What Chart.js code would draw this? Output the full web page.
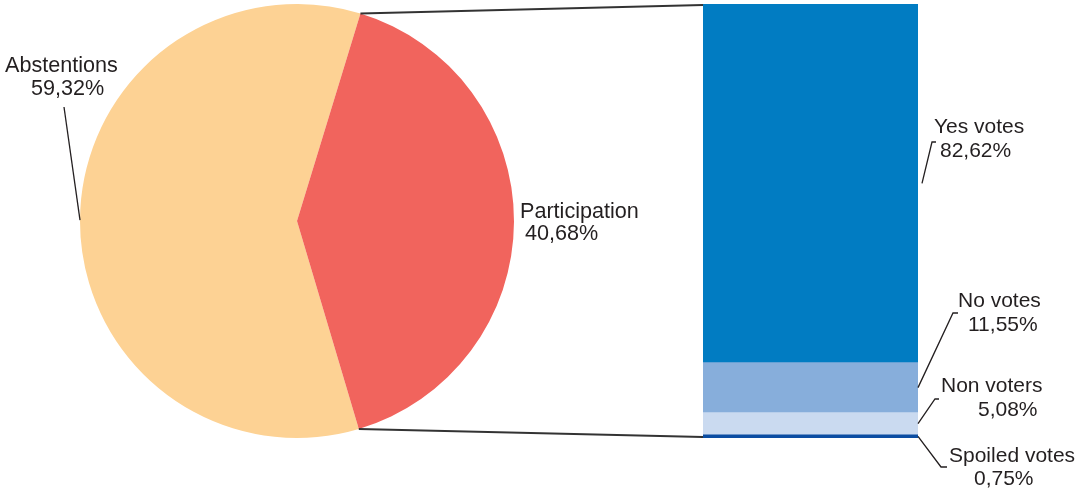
<!DOCTYPE html>
<html lang="en">
<head>
<meta charset="UTF-8">
<title>Participation and results</title>
<script src="https://cdn.jsdelivr.net/npm/chart.js"></script>
<style>
  html, body { margin: 0; padding: 0; background: #ffffff; }
  #stage { position: relative; width: 1089px; height: 493px; overflow: hidden; font-family: "Liberation Sans", Arial, sans-serif; color: #231f20; }
  #pieBox { position: absolute; left: 0; top: 0; width: 594px; height: 442px; }
  #barBox { position: absolute; left: 703px; top: 4px; width: 215px; height: 434px; }
  #overlay { position: absolute; left: 0; top: 0; pointer-events: none; }
  .lbl { position: absolute; white-space: nowrap; line-height: 1; }
</style>
</head>
<body>
<div id="stage">
  <div id="pieBox"><canvas id="pieChart" width="594" height="442"></canvas></div>
  <div id="barBox"><canvas id="barChart" width="215" height="434"></canvas></div>
  <canvas id="overlay" width="1089" height="493"></canvas>
</div>
<script>
// pie: share of registered voters
const pieLabels = ['Abstentions', 'Participation'];
const pieValues = [59.32, 40.68];
const pieColors = ['#fdd294', '#f1645d'];

// stacked bar: breakdown of participation (bottom to top)
const barLabels = ['Spoiled votes', 'Non voters', 'No votes', 'Yes votes'];
const barValues = [0.75, 5.08, 11.55, 82.62];
const barColors = ['#0b4da2', '#cadaf0', '#87aedb', '#017cc2'];

// where the label lines sit, and where the leader line ends
const labelLayout = {
  'Abstentions':   { x: [5, 31],    y: [72, 95],   size: 21.6, end: [64, 107], hook: 0 },
  'Participation': { x: [520, 525], y: [218, 240], size: 21.6 },
  'Yes votes':     { x: [934, 940], y: [133, 157], size: 21, end: [932, 142], hook: 4, dx: 4 },
  'No votes':      { x: [958, 968], y: [307, 331], size: 21, end: [953, 313], hook: 5 },
  'Non voters':    { x: [941, 978], y: [392, 416], size: 21, end: [935, 399], hook: 4 },
  'Spoiled votes': { x: [949, 974], y: [462, 485], size: 21, end: [941, 467], hook: 6 }
};

const fmt = v => v.toFixed(2).replace('.', ',') + '%';

const stage = document.getElementById('stage');
const addLabel = (name, value) => {
  const l = labelLayout[name];
  [name, fmt(value)].forEach((txt, i) => {
    const d = document.createElement('div');
    d.className = 'lbl';
    d.style.fontSize = l.size + 'px';
    d.style.left = l.x[i] + 'px';
    d.style.top = (l.y[i] - 0.8465 * l.size) + 'px';
    d.textContent = txt;
    stage.appendChild(d);
  });
};
pieLabels.forEach((n, i) => addLabel(n, pieValues[i]));
barLabels.forEach((n, i) => addLabel(n, barValues[i]));

// participation slice starts just right of 12 o'clock
const pieChart = new Chart(document.getElementById('pieChart'), {
  type: 'pie',
  data: {
    labels: pieLabels,
    datasets: [{ data: pieValues, backgroundColor: pieColors, borderWidth: 0 }]
  },
  options: {
    responsive: false,
    animation: false,
    rotation: 163.45,
    layout: { padding: 4 },
    plugins: { legend: { display: false }, tooltip: { enabled: false } }
  }
});

const barChart = new Chart(document.getElementById('barChart'), {
  type: 'bar',
  data: {
    labels: ['Participation'],
    datasets: barLabels.map((n, i) => ({
      label: n,
      data: [barValues[i]],
      backgroundColor: barColors[i],
      borderWidth: 0,
      barPercentage: 1,
      categoryPercentage: 1
    }))
  },
  options: {
    responsive: false,
    animation: false,
    layout: { padding: 0 },
    scales: {
      x: { stacked: true, display: false },
      y: { stacked: true, display: false, min: 0, max: 100 }
    },
    plugins: { legend: { display: false }, tooltip: { enabled: false } }
  }
});

function drawOverlay() {
  const cv = document.getElementById('overlay');
  const ctx = cv.getContext('2d');
  ctx.clearRect(0, 0, cv.width, cv.height);
  const pieOff = { x: 0, y: 0 };
  const barOff = { x: 703, y: 4 };

  // zoom connector lines: participation slice -> bar
  const part = pieChart.getDatasetMeta(0).data[1];
  const r = part.outerRadius;
  const p1 = { x: pieOff.x + part.x + r * Math.cos(part.startAngle), y: pieOff.y + part.y + r * Math.sin(part.startAngle) };
  const p2 = { x: pieOff.x + part.x + r * Math.cos(part.endAngle), y: pieOff.y + part.y + r * Math.sin(part.endAngle) };
  const topBar = barChart.getDatasetMeta(barLabels.length - 1).data[0];
  const botBar = barChart.getDatasetMeta(0).data[0];
  const barLeft = barOff.x + topBar.x - topBar.width / 2;
  const barRight = barOff.x + topBar.x + topBar.width / 2;

  ctx.strokeStyle = '#333333';
  ctx.lineWidth = 2;
  ctx.beginPath();
  ctx.moveTo(p1.x, p1.y);
  ctx.lineTo(barLeft, barOff.y + topBar.y + 1);
  ctx.moveTo(p2.x, p2.y);
  ctx.lineTo(barLeft, barOff.y + botBar.base - 1);
  ctx.stroke();

  // leader lines
  ctx.strokeStyle = '#231f20';
  ctx.lineWidth = 1.3;
  const abst = pieChart.getDatasetMeta(0).data[0];
  const mid = (abst.startAngle + abst.endAngle) / 2;
  const la = labelLayout['Abstentions'];
  ctx.beginPath();
  ctx.moveTo(pieOff.x + abst.x + abst.outerRadius * Math.cos(mid), pieOff.y + abst.y + abst.outerRadius * Math.sin(mid));
  ctx.lineTo(la.end[0], la.end[1]);
  ctx.stroke();

  barLabels.forEach((n, i) => {
    const el = barChart.getDatasetMeta(i).data[0];
    const l = labelLayout[n];
    const sy = barOff.y + (el.y + el.base) / 2;
    ctx.beginPath();
    ctx.moveTo(barRight + (l.dx || 0), sy);
    ctx.lineTo(l.end[0], l.end[1]);
    ctx.lineTo(l.end[0] + l.hook, l.end[1]);
    ctx.stroke();
  });
}
drawOverlay();
</script>
</body>
</html>
